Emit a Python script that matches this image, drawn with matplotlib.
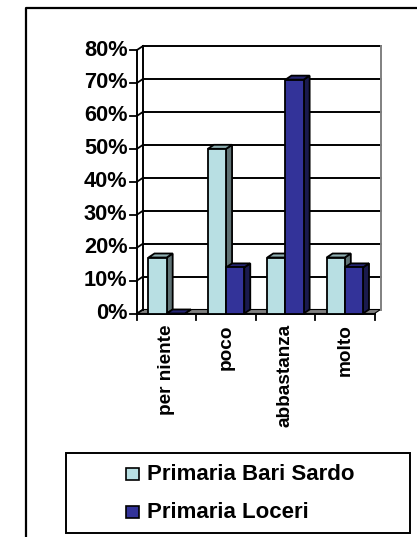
import matplotlib
matplotlib.use("Agg")
import matplotlib.pyplot as plt
from matplotlib.patches import Rectangle

plt.rcParams['font.family'] = ['Liberation Sans', 'DejaVu Sans']
plt.rcParams['font.weight'] = 'bold'

categories = ["per niente", "poco", "abbastanza", "molto"]
series_names = ["Primaria Bari Sardo", "Primaria Loceri"]
bari_sardo = [17, 50, 17, 17]
loceri = [0, 14, 71, 14]
y_ticks = [0, 10, 20, 30, 40, 50, 60, 70, 80]

W, H = 417, 537
fig = plt.figure(figsize=(W / 100, H / 100), dpi=100, facecolor='white')

# full-figure axes in pixels for the frame and legend
bg = fig.add_axes([0, 0, 1, 1])
bg.set_xlim(0, W)
bg.set_ylim(H, 0)
bg.axis('off')
bg.plot([26.5, 26.5, 417], [537, 8, 8], color='black', lw=1.6)

L, R, Y0, Y80 = 137, 374.5, 313.5, 50
ax = fig.add_axes([L / W, 1 - Y0 / H, (R - L) / W, (Y0 - Y80) / H])
ax.set_xlim(0, 4)
ax.set_ylim(0, 80)
ax.axis('off')

# depth of the fake 3d, in data units
dx = 6 * 4 / (R - L)
dy = 4 * 80 / (Y0 - Y80)
bar_w = 18.2 * 4 / (R - L)


def poly(xs, ys, color, z):
    ax.fill(xs, ys, facecolor=color, edgecolor='black', lw=1.3, zorder=z, clip_on=False)


def bar3d(x, v, front, side, top, z):
    poly([x + bar_w, x + bar_w + dx, x + bar_w + dx, x + bar_w],
         [0, dy, v + dy, v], side, z)
    poly([x, x + dx, x + bar_w + dx, x + bar_w], [v, v + dy, v + dy, v], top, z)
    poly([x, x + bar_w, x + bar_w, x], [0, 0, v, v], front, z)


# walls and grid
ax.fill([0, 4, 4 + dx, dx], [0, 0, dy, dy], facecolor='#808080', edgecolor='black', lw=0.8,
        zorder=1, clip_on=False)
for t in y_ticks:
    if t > 0:
        ax.plot([dx, 4 + dx], [t + dy, t + dy], color='black', lw=1.4, zorder=1, clip_on=False)
    ax.plot([0, dx], [t, t + dy], color='black', lw=1.3, zorder=1, clip_on=False)
    ax.plot([-0.115, 0], [t, t], color='black', lw=1.3, clip_on=False)
    ax.text(-0.16, t, "%d%%" % t, ha='right', va='center', fontsize=15.7, clip_on=False)
ax.plot([0, 0], [0, 80], color='black', lw=1.4, clip_on=False, zorder=1)
ax.plot([dx, dx], [dy, 80 + dy], color='black', lw=1.4, clip_on=False, zorder=1)
ax.plot([4 + dx, 4 + dx], [dy, 80 + dy], color='#808080', lw=1.4, clip_on=False, zorder=1)
ax.plot([0, 4], [0, 0], color='black', lw=1.4, clip_on=False, zorder=2)

for i in range(5):
    ax.plot([i, i], [0, -2], color='black', lw=1.3, clip_on=False)

for i, name in enumerate(categories):
    bar3d(i + 0.5 - bar_w, bari_sardo[i], '#B8DFE3', '#5F7274', '#8FAFB2', 3 + i * 2)
    bar3d(i + 0.5, loceri[i], '#333399', '#1A1A4D', '#262673', 4 + i * 2)
    ax.text(i + 0.5, -3.3, name, rotation=90, ha='center', va='top', fontsize=13.7, clip_on=False)

# legend
bg.add_patch(Rectangle((66, 453), 344.5, 80, fc='white', ec='black', lw=1.4))
colors = ['#B8DFE3', '#333399']
for k, (name, c) in enumerate(zip(series_names, colors)):
    yy = 474 + k * 38
    bg.add_patch(Rectangle((126, yy - 6), 13, 12, fc=c, ec='black', lw=1.2))
    bg.text(147.5, yy, name, ha='left', va='center', fontsize=16)

fig.savefig('out.png', dpi=100, facecolor='white')
